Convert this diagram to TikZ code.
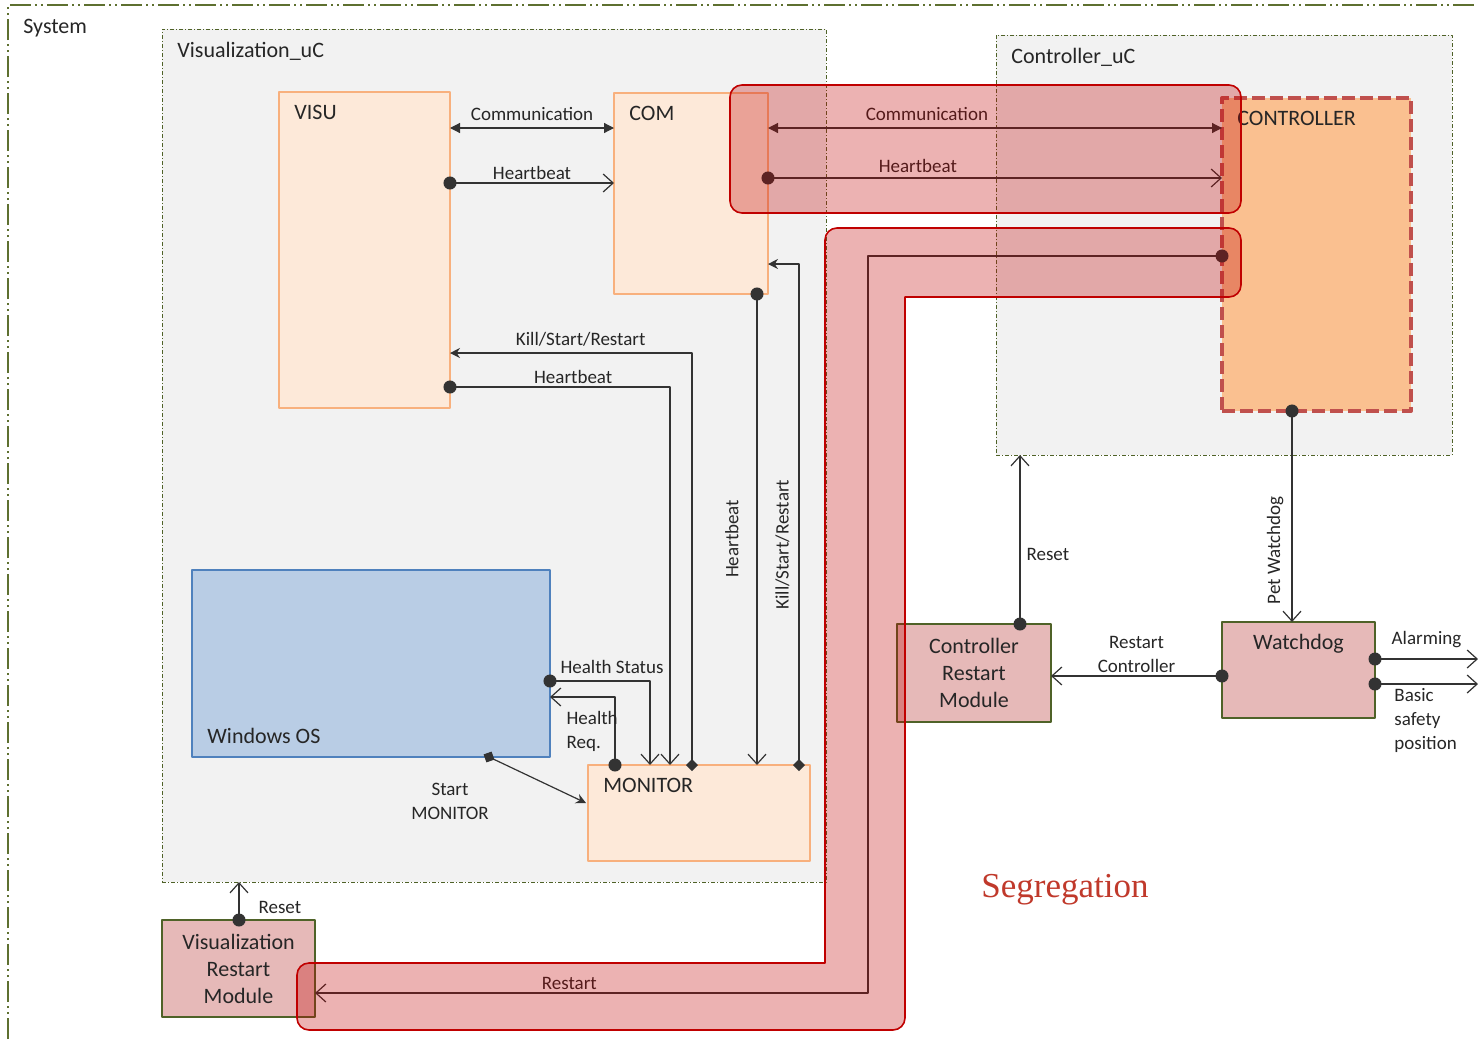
\documentclass[tikz,border=0pt]{standalone}
\usepackage{fontspec}
\setmainfont{Carlito}
\newfontfamily\segfont{Liberation Serif}
\usetikzlibrary{arrows.meta,calc}
\definecolor{olivegr}{RGB}{79,98,40}
\definecolor{sysgr}{RGB}{94,112,48}
\definecolor{ucfill}{RGB}{242,242,242}
\definecolor{peachfill}{RGB}{253,233,217}
\definecolor{peachline}{RGB}{248,176,125}
\definecolor{ctrlfill}{RGB}{250,192,144}
\definecolor{ctrlline}{RGB}{192,80,77}
\definecolor{winfill}{RGB}{185,205,229}
\definecolor{winline}{RGB}{79,129,189}
\definecolor{modfill}{RGB}{230,185,184}
\definecolor{segred}{RGB}{192,0,0}
\definecolor{segtext}{RGB}{192,57,43}

\begin{document}
\begin{tikzpicture}[line cap=round,line join=round,x=0.5pt,y=-0.5pt,
  big/.style={font=\fontsize{11}{13.5}\selectfont,text=black!85},
  small/.style={font=\fontsize{9.5}{12}\selectfont,text=black!85,inner sep=1.5pt},
  box/.style={anchor=north west,inner sep=0pt,outer sep=0pt},
  ucbox/.style={box,fill=ucfill,draw=olivegr,line width=0.5pt,line cap=butt,dash pattern=on 2pt off 1pt on 0.5pt off 1pt},
  swbox/.style={box,fill=peachfill,draw=peachline,line width=0.6pt},
  ctrlbox/.style={box,fill=ctrlfill,draw=ctrlline,line width=2pt,line cap=butt,dash pattern=on 6.5pt off 2.5pt},
  winbox/.style={box,fill=winfill,draw=winline,line width=0.6pt},
  modbox/.style={box,big,align=center,fill=modfill,draw=olivegr,line width=0.6pt},
  tl/.style={label={[big,anchor=north west,inner sep=0pt,xshift=7.5pt,yshift=-6.5pt]north west:#1}},
  bl/.style={label={[big,anchor=south west,inner sep=0pt,xshift=7.5pt,yshift=6.5pt]south west:#1}},
  tc/.style={label={[big,anchor=north,inner sep=0pt,yshift=-6pt]north:#1}},
  conn/.style={draw=black!80,line width=0.6pt},
  hb/.style={conn,{Circle[length=6.5pt]}-{Straight Barb[length=5pt,width=9pt,line width=0.6pt]},shorten <=-3.25pt},
  both/.style={conn,{Triangle[length=5pt,width=5pt]}-{Triangle[length=5pt,width=5pt]}},
  kill/.style={conn,{Diamond[length=6pt,width=6pt]}-{Stealth[length=5pt,width=5pt]},shorten <=-3pt},
  seg/.style={fill=segred,fill opacity=0.3,draw=segred,line width=0.8pt}]
\useasboundingbox (0,0) rectangle (1478,1039);
\draw [sysgr,line width=1.2pt,line cap=butt,dash pattern=on 10.5pt off 2pt on 1pt off 2pt on 1pt off 2pt] (8,1039) -- (8,5) -- (1478,5);
\node[big,anchor=north west,inner sep=0pt] (systxt) at (23,19) {System};

\node[ucbox,minimum width=332pt,minimum height=426.5pt,tl={Visualization\_uC}] (vizuc) at (162,29) {};
\node[ucbox,minimum width=228pt,minimum height=210pt,tl={Controller\_uC}] (ctrluc) at (996,35) {};
\node[swbox,minimum width=85.5pt,minimum height=158pt,tl=VISU] (visu) at (279,92) {};
\node[swbox,minimum width=77pt,minimum height=100.5pt,tl=COM] (com) at (614,93) {};
\node[ctrlbox,minimum width=94.5pt,minimum height=156.5pt,tl=CONTROLLER] (ctrl) at (1222,98) {};
\node[winbox,minimum width=179pt,minimum height=93.5pt,bl={Windows OS}] (win) at (192,570) {};
\node[swbox,minimum width=111pt,minimum height=48pt,tl=MONITOR] (mon) at (588,765) {};
\node[modbox,minimum width=77pt,minimum height=49pt] (crm) at (897,624) {Controller\\Restart\\Module};
\node[modbox,minimum width=76.5pt,minimum height=48pt,tc=Watchdog] (wd) at (1222,622) {};
\node[modbox,minimum width=76.5pt,minimum height=48.5pt] (vrm) at (162,920) {Visualization\\Restart\\Module};

\draw[both] ($(visu.north east)+(0,36)$) -- node[small,above,yshift=2pt]{Communication} ($(com.north west)+(0,35)$);
\draw[hb] ($(visu.north east)+(0,91)$) -- node[small,above]{Heartbeat} ($(com.north west)+(0,90)$);
\draw[both] ($(com.north east)+(0,35)$) -- node[small,above,yshift=2pt,pos=0.35]{Communication} ($(ctrl.north west)+(0,30)$);
\draw[hb] ($(com.north east)+(0,85)$) -- node[small,above,yshift=1pt,pos=0.33]{Heartbeat} ($(ctrl.north west)+(0,80)$);
\draw[kill] ($(mon.north west)+(104,0)$) |- node[small,above,yshift=1.5pt,pos=0.73]{Kill/Start/Restart} ($(visu.north east)+(0,261)$);
\draw[hb] ($(visu.north east)+(0,295)$) -| node[small,above,pos=0.28]{Heartbeat} ($(mon.north west)+(82,0)$);
\draw[hb] ($(com.south east)+(-11,0)$) -- node[small,rotate=90,anchor=south,inner sep=9pt,pos=0.52]{Heartbeat} ($(mon.north west)+(169,0)$);
\draw[kill] ($(mon.north east)+(-11,0)$) |- node[small,rotate=90,anchor=south,inner sep=4.5pt,pos=0.22]{Kill/Start/Restart} ($(com.north east)+(0,171)$);
\draw[hb] ($(win.north east)+(0,111)$) -| node[small,above,yshift=2pt,pos=0.31]{Health Status} ($(mon.north west)+(62,0)$);
\draw[hb] ($(mon.north west)+(27,0)$) |- node[small,anchor=west,align=left,inner sep=0pt,xshift=-24.5pt,pos=0.25]{Health\\Req.} ($(win.north east)+(0,127)$);
\draw[kill] ($(win.south west)+(297,0)$) -- ($(mon.north west)+(-2,38)$);
\node[small,align=center] (startlbl) at (450,801) {Start\\MONITOR};

\draw[hb] ($(ctrl.south west)+(70,0)$) -- node[small,rotate=90,anchor=south,inner sep=4pt,pos=0.66]{Pet Watchdog} ($(wd.north west)+(70,0)$);
\draw[hb] ($(wd.north west)+(0,54)$) -- node[small,above,align=center]{Restart\\Controller} ($(crm.north east)+(0,52)$);
\draw[hb] ($(crm.north west)+(123,0)$) -- node[small,right,inner sep=3pt,pos=0.41]{Reset} ($(ctrluc.south west)+(24,0)$);
\coordinate (alarmend) at ($(wd.north east)+(103,37)$);
\coordinate (safeend) at ($(wd.north east)+(103,62)$);
\draw[hb] ($(wd.north east)+(0,37)$) -- node[small,above,inner sep=3pt,yshift=2.5pt]{Alarming} (alarmend);
\draw[hb] ($(wd.north east)+(0,62)$) -- (safeend);
\node[small,align=left,anchor=north west,inner sep=0pt] (safetxt) at ($(wd.north east)+(19,66)$) {Basic\\safety\\position};
\draw[hb] ($(vrm.north west)+(77,0)$) -- node[small,right,xshift=8pt,pos=0.32]{Reset} ($(vizuc.south west)+(77,0)$);
\draw[hb] ($(ctrl.north west)+(0,158)$) -| ($(vrm.north east)+(553,73)$) -- node[small,above,pos=0.54]{Restart} ($(vrm.north east)+(0,73)$);

\draw[seg,rounded corners=6pt] (730,85) rectangle (1241,213);
\draw[seg] (825,963) [rounded corners=6pt] -- (825,228) -- (1241,228) -- (1241,297) [sharp corners] -- (905,297) [rounded corners=6pt] -- (905,1030) -- (297,1030) -- (297,963) [sharp corners] -- cycle;
\node[font=\segfont\fontsize{17.5}{20}\selectfont,text=segtext] (segtxt) at (1065,890) {Segregation};
\end{tikzpicture}
\end{document}
